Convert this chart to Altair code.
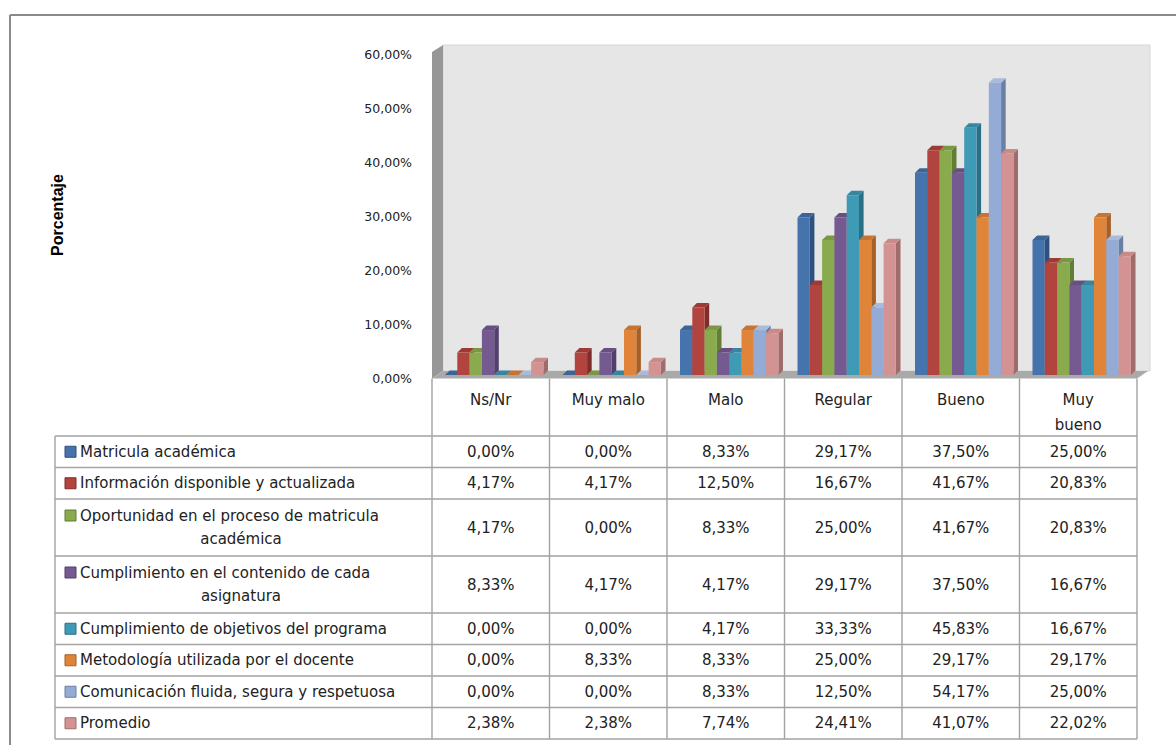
import textwrap

import altair as alt
import pandas as pd

# ---------------------------------------------------------------- data
categories = ["Ns/Nr", "Muy malo", "Malo", "Regular", "Bueno", "Muy bueno"]
series = [
    "Matricula académica",
    "Información disponible y actualizada",
    "Oportunidad  en el proceso de matricula académica",
    "Cumplimiento en el contenido de cada asignatura",
    "Cumplimiento de objetivos del programa",
    "Metodología utilizada por el docente",
    "Comunicación fluida, segura y respetuosa",
    "Promedio",
]
matricula = [0.00, 0.00, 8.33, 29.17, 37.50, 25.00]
informacion = [4.17, 4.17, 12.50, 16.67, 41.67, 20.83]
oportunidad = [4.17, 0.00, 8.33, 25.00, 41.67, 20.83]
contenido = [8.33, 4.17, 4.17, 29.17, 37.50, 16.67]
objetivos = [0.00, 0.00, 4.17, 33.33, 45.83, 16.67]
metodologia = [0.00, 8.33, 8.33, 25.00, 29.17, 29.17]
comunicacion = [0.00, 0.00, 8.33, 12.50, 54.17, 25.00]
promedio = [2.38, 2.38, 7.74, 24.41, 41.07, 22.02]
values = [matricula, informacion, oportunidad, contenido,
          objetivos, metodologia, comunicacion, promedio]
tick_values = [0, 10, 20, 30, 40, 50, 60]
y_title = "Porcentaje"

# ---------------------------------------------------------------- style
FRONT = ["#4573ab", "#b2443f", "#8aab4d", "#755a92",
         "#3f9ab6", "#e0843a", "#94acd5", "#d49393"]
SIDE = ["#2e5180", "#7e2d2a", "#627d35", "#52406b",
        "#2b6f85", "#a55f27", "#6b7ea4", "#a06b6b"]
TOP = ["#3b6597", "#9c3a36", "#7a9743", "#674f81",
       "#37869f", "#c77433", "#a9badb", "#c98a8a"]
TEXT = "#222222"
GRID = "#a2a2a2"
FONT = "DejaVu Sans"

W, H = 1176, 745
COL0, COLW = 432.0, 117.5          # first category column, column width (px)
BASE, PX_PCT = 375.0, 5.396        # bar base line and pixels per percent


def cx(px):
    """Horizontal pixel -> category-column units."""
    return (px - COL0) / COLW


OFF = 13.0 / COLW                  # gap before the first bar of a group
BW = 12.3 / COLW                   # bar width
DX = 4.6 / COLW                    # 3-D depth, horizontal
DP = 4.5 / PX_PCT                  # 3-D depth, vertical (percent units)

xs = alt.Scale(domain=[cx(0), cx(W)], nice=False, zero=False)
ps = alt.Scale(domain=[-(H - BASE) / PX_PCT, BASE / PX_PCT], nice=False, zero=False)
ls = alt.Scale(domain=[0, H], reverse=True, nice=False, zero=False)


def X(f):
    return alt.X(f, type="quantitative", scale=xs, axis=None)


def YP(f):
    return alt.Y(f, type="quantitative", scale=ps, axis=None, stack=None)


def YL(f):
    return alt.Y(f, type="quantitative", scale=ls, axis=None, stack=None)


def fmt(v):
    return f"{v:.2f}".replace(".", ",") + "%"


# ---------------------------------------------------------------- bar faces
front, side, top = [], [], []
for s, vals in enumerate(values):
    for g, v in enumerate(vals):
        bid = f"{g}-{s}"
        x1 = g + OFF + s * BW
        x2 = x1 + BW
        front.append(dict(bid=bid, x1=x1, x2=x2, v=v, fill=FRONT[s]))
        side += [dict(bid=bid, x=x2, y=v, y2=0.0, fill=SIDE[s]),
                 dict(bid=bid, x=x2 + DX, y=v + DP, y2=DP, fill=SIDE[s])]
        top += [dict(bid=bid, x=x1, y=v, y2=v, fill=TOP[s]),
                dict(bid=bid, x=x1 + DX, y=v + DP, y2=v, fill=TOP[s]),
                dict(bid=bid, x=x2, y=v + DP, y2=v, fill=TOP[s]),
                dict(bid=bid, x=x2 + DX, y=v + DP, y2=v + DP, fill=TOP[s])]

side_layer = alt.Chart(pd.DataFrame(side)).mark_area(strokeWidth=0).encode(
    x=X("x"), y=YP("y"), y2="y2", detail="bid:N",
    color=alt.Color("fill:N", scale=None))
top_layer = alt.Chart(pd.DataFrame(top)).mark_area(strokeWidth=0).encode(
    x=X("x"), y=YP("y"), y2="y2", detail="bid:N",
    color=alt.Color("fill:N", scale=None))
front_layer = alt.Chart(pd.DataFrame(front)).mark_bar(strokeWidth=0).encode(
    x=X("x1"), x2="x2", y=alt.Y("z:Q", scale=ps, axis=None, stack=None),
    y2="v", color=alt.Color("fill:N", scale=None)).transform_calculate(z="0")

# ---------------------------------------------------------------- walls / floor
back_wall = alt.Chart(pd.DataFrame([dict(x1=cx(443), x2=cx(1150), y1=45, y2=371)])
                      ).mark_rect(color="#e6e6e6", stroke="#d6d6d6", strokeWidth=1).encode(
    x=X("x1"), x2="x2", y=YL("y1"), y2="y2")
left_wall = alt.Chart(pd.DataFrame([
    dict(x=cx(432), y=52, y2=378.5), dict(x=cx(443), y=45, y2=371)])
).mark_area(color="#979797").encode(x=X("x"), y=YL("y"), y2="y2")
floor = alt.Chart(pd.DataFrame([
    dict(x=cx(432), y=378.5, y2=378.5), dict(x=cx(443), y=371, y2=378.5),
    dict(x=cx(1137), y=371, y2=378.5), dict(x=cx(1148), y=371, y2=371)])
).mark_area(color="#a9a9a9").encode(x=X("x"), y=YL("y"), y2="y2")

# ---------------------------------------------------------------- value axis
ticks = pd.DataFrame(dict(v=tick_values, label=[fmt(t) for t in tick_values]))
tick_text = alt.Chart(ticks).mark_text(
    align="right", baseline="middle", font=FONT, fontSize=12.5, color=TEXT, dy=3.5
).encode(x=alt.X("px:Q", scale=xs, axis=None), y=YP("v"), text="label:N"
         ).transform_calculate(px=str(cx(412)))
title_text = alt.Chart(pd.DataFrame([dict(x=cx(58), y=215, t=y_title)])).mark_text(
    angle=270, align="center", baseline="middle", font="Liberation Sans",
    fontWeight="bold", fontSize=16, color="#000000"
).encode(x=X("x"), y=YL("y"), text="t:N")

# ---------------------------------------------------------------- data table
label_lines = [textwrap.wrap(name, width=40) for name in series]
ROW_H = {1: 31.5, 2: 57.0}
HEAD_TOP, HEAD_H = 378.5, 57.5
row_top = [HEAD_TOP + HEAD_H]
for lines in label_lines:
    row_top.append(row_top[-1] + ROW_H[len(lines)])
TABLE_L = cx(55)

hlines = pd.DataFrame(dict(y=row_top, x1=TABLE_L, x2=float(len(categories))))
vlines = pd.DataFrame(
    [dict(x=TABLE_L, y1=row_top[0], y2=row_top[-1])]
    + [dict(x=float(i), y1=HEAD_TOP, y2=row_top[-1]) for i in range(len(categories) + 1)])
h_rules = alt.Chart(hlines).mark_rule(color=GRID, strokeWidth=1.4).encode(
    x=X("x1"), x2="x2", y=YL("y"))
v_rules = alt.Chart(vlines).mark_rule(color=GRID, strokeWidth=1.4).encode(
    x=X("x"), y=YL("y1"), y2="y2")

head_rows = []
for g, cat in enumerate(categories):
    parts = textwrap.wrap(cat, width=8)
    for i, part in enumerate(parts):
        head_rows.append(dict(x=g + 0.5, y=400 + 25 * i, t=part))
head_text = alt.Chart(pd.DataFrame(head_rows)).mark_text(
    align="center", baseline="middle", font=FONT, fontSize=15, color=TEXT
).encode(x=X("x"), y=YL("y"), text="t:N")

cell_rows, label_rows, key_rows = [], [], []
for s, (vals, lines) in enumerate(zip(values, label_lines)):
    top_y = row_top[s]
    mid = top_y + ROW_H[len(lines)] / 2
    for g, v in enumerate(vals):
        cell_rows.append(dict(x=g + 0.5, y=mid, t=fmt(v)))
    first_y = mid if len(lines) == 1 else top_y + 16.5
    label_rows.append(dict(x=cx(80), y=first_y, t=lines[0], a="left"))
    for i, extra in enumerate(lines[1:], start=1):
        label_rows.append(dict(x=cx(241), y=first_y + 23 * i, t=extra, a="center"))
    key_rows.append(dict(x1=cx(65), x2=cx(76), y1=first_y - 5.5, y2=first_y + 5.5,
                         fill=FRONT[s], edge=SIDE[s]))

cell_text = alt.Chart(pd.DataFrame(cell_rows)).mark_text(
    align="center", baseline="middle", font=FONT, fontSize=15, color=TEXT
).encode(x=X("x"), y=YL("y"), text="t:N")
lab_df = pd.DataFrame(label_rows)
label_left = alt.Chart(lab_df[lab_df.a == "left"]).mark_text(
    align="left", baseline="middle", font=FONT, fontSize=15, color=TEXT
).encode(x=X("x"), y=YL("y"), text="t:N")
label_center = alt.Chart(lab_df[lab_df.a == "center"]).mark_text(
    align="center", baseline="middle", font=FONT, fontSize=15, color=TEXT
).encode(x=X("x"), y=YL("y"), text="t:N")
keys = alt.Chart(pd.DataFrame(key_rows)).mark_rect(strokeWidth=1).encode(
    x=X("x1"), x2="x2", y=YL("y1"), y2="y2",
    color=alt.Color("fill:N", scale=None), stroke=alt.Stroke("edge:N", scale=None))

# ---------------------------------------------------------------- outer frame
frame_h = alt.Chart(pd.DataFrame([dict(x1=cx(10), x2=cx(W), y=15)])).mark_rule(
    color="#8a8a8a", strokeWidth=2).encode(x=X("x1"), x2="x2", y=YL("y"))
frame_v = alt.Chart(pd.DataFrame([dict(x=cx(10), y1=15, y2=H)])).mark_rule(
    color="#8a8a8a", strokeWidth=2).encode(x=X("x"), y=YL("y1"), y2="y2")

chart = alt.layer(
    frame_h, frame_v,
    back_wall, left_wall, floor,
    side_layer, top_layer, front_layer,
    tick_text, title_text,
    h_rules, v_rules, head_text, cell_text, label_left, label_center, keys,
).resolve_scale(y="independent").properties(
    width=W, height=H, padding=0, background="white",
    autosize=alt.AutoSizeParams(type="none"),
).configure_view(stroke=None)

chart.save("out.html", embed_options={"renderer": "svg", "actions": False})
